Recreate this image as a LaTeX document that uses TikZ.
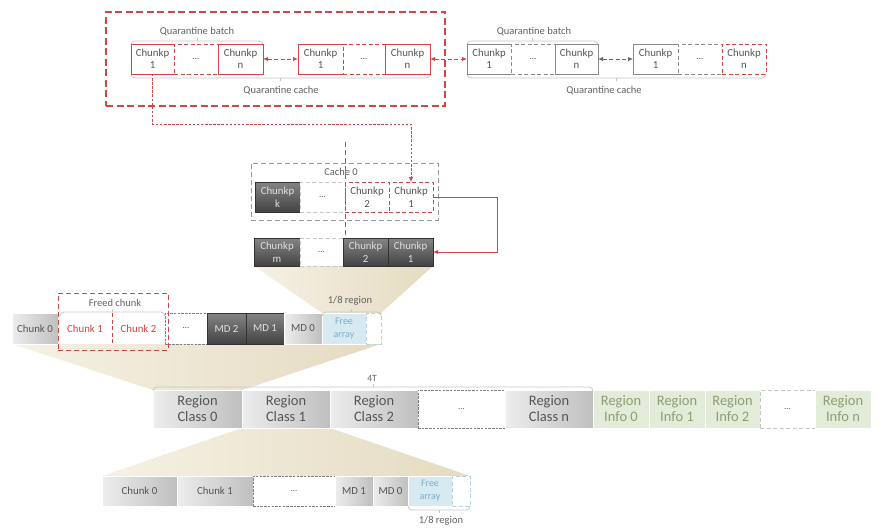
\documentclass[tikz,border=0pt]{standalone}
\usepackage{fontspec}
\setmainfont{Carlito}
\usetikzlibrary{arrows.meta}
\pgfdeclarelayer{bg}
\pgfsetlayers{bg,main}
\definecolor{qred}{HTML}{D04545}
\definecolor{tgray}{HTML}{555555}
\definecolor{dgray}{HTML}{8A8A8A}
\definecolor{lblue}{HTML}{D7EAF2}
\definecolor{lbluetxt}{HTML}{7FADC6}
\definecolor{lbluedash}{HTML}{B5D4E3}
\definecolor{lgreen}{HTML}{E3EBD9}
\definecolor{lgreentxt}{HTML}{8E9E74}
\definecolor{wedgeL}{HTML}{F6F1E5}
\definecolor{wedgeR}{HTML}{E5DBC1}
\newcommand\mkbox[7]{\node[#1,minimum width={(#5-#3)*1pt},minimum height={(#6-#4)*1pt}] (#2) at ({(#3+#5)/2},{(#4+#6)/2}) {#7};}
\newcommand\bracetop[3]{\draw[brc,rounded corners=4pt] (#1,#3+4) -- (#1,#3) -- (#2,#3) -- (#2,#3+4); \draw[brc] ({(#1+#2)/2},#3) -- ++(0,-3);}
\newcommand\bracebot[3]{\draw[brc,rounded corners=4pt] (#1,#3-4) -- (#1,#3) -- (#2,#3) -- (#2,#3-4); \draw[brc] ({(#1+#2)/2},#3) -- ++(0,3);}
\begin{document}
\begin{tikzpicture}[x=1pt,y=-1pt,
 base/.style={inner sep=0pt,outer sep=0pt,align=center,font=\fontsize{10.8}{12.5}\selectfont,text=tgray},
 lbl/.style={inner sep=0pt,font=\fontsize{10.5}{12.5}\selectfont,text=black!62},
 bigred/.style={base,draw=qred,line width=1.1pt,dash pattern=on 7pt off 3.5pt},
 redopen/.style={base,fill=white},
 redline/.style={draw=qred,line width=0.9pt},
 redbox/.style={base,draw=qred,line width=0.9pt,fill=white},
 reddash/.style={base,draw=qred,line width=0.9pt,fill=white,dash pattern=on 4pt off 2.5pt},
 grayopen/.style={base,fill=white},
 grayline/.style={draw=dgray,line width=0.8pt},
 graybox/.style={base,draw=dgray,line width=0.8pt,fill=white},
 graydash/.style={base,draw=dgray,line width=0.8pt,fill=white,dash pattern=on 4pt off 2.5pt},
 darkbox/.style={base,draw=black!80,line width=0.5pt,top color=black!48,bottom color=black!74,text=black!12},
 lightbox/.style={base,draw=white,line width=0.6pt,left color=black!7,right color=black!25},
 dotsbox/.style={base,draw=black!50,line width=0.6pt,fill=white,dash pattern=on 2.5pt off 1.2pt,font=\fontsize{9}{10}\selectfont},
 lightdots/.style={base,draw=black!22,line width=0.7pt,fill=white,dash pattern=on 4pt off 2.5pt,font=\fontsize{9}{10}\selectfont},
 redtxt/.style={base,fill=white,text=qred},
 freebox/.style={base,fill=lblue,draw=white,line width=0.5pt,text=lbluetxt,font=\fontsize{10}{13}\selectfont},
 freedash/.style={base,fill=white,draw=lbluedash,line width=0.8pt,dash pattern=on 4pt off 2.5pt},
 region/.style={lightbox,font=\fontsize{14.5}{16}\selectfont},
 info/.style={base,fill=lgreen,draw=white,line width=0.6pt,text=lgreentxt,font=\fontsize{14.5}{16}\selectfont},
 cachebox/.style={base,draw=black!40,line width=0.9pt,dash pattern=on 5pt off 3pt},
 freedbox/.style={base,draw=qred,line width=1pt,dash pattern=on 5pt off 3pt},
 brc/.style={draw=black!22,line width=0.8pt},
 rarr/.style={draw=qred,line width=0.9pt,dash pattern=on 4pt off 2.5pt,{Latex[length=5pt,width=4.5pt]}-{Latex[length=5pt,width=4.5pt]}},
 garr/.style={draw=black!60,line width=0.9pt,dash pattern=on 4pt off 2.5pt,{Latex[length=5pt,width=4.5pt]}-{Latex[length=5pt,width=4.5pt]}},
 rfine/.style={draw=qred,line width=0.8pt,dash pattern=on 2.5pt off 1.6pt},
 rmid/.style={draw=qred,line width=0.9pt,dash pattern=on 5pt off 3pt},
 wedge/.style={left color=wedgeL,right color=wedgeR,draw=none}
]
\useasboundingbox (0,0) rectangle (885,532);

% ---------- top quarantine area ----------
\mkbox{bigred}{qcache}{106}{12}{445}{106}{}
\node[lbl] (lbA) at (197,32) {Quarantine batch};
\node[lbl] (lcA) at (281,91) {Quarantine cache};
\node[lbl] (lbC) at (534,32) {Quarantine batch};
\node[lbl] (lcC) at (604,91) {Quarantine cache};
\bracetop{131}{263}{41}
\bracebot{131}{430}{78}
\bracetop{467}{598}{41}
\bracebot{467}{766}{78}

\mkbox{redopen}{qa1}{131}{44}{174}{74}{Chunkp\\1}
\mkbox{reddash}{qad}{174}{44}{218}{74}{\fontsize{9}{10}\selectfont\dots}
\mkbox{redbox}{qan}{218}{44}{263}{74}{Chunkp\\n}
\draw[redline] (qa1.north east) -- (qa1.north west) -- (qa1.south west) -- (qa1.south east);

\mkbox{redopen}{qb1}{298}{44}{343}{74}{Chunkp\\1}
\mkbox{reddash}{qbd}{343}{44}{385}{74}{\fontsize{9}{10}\selectfont\dots}
\mkbox{redbox}{qbn}{385}{44}{430}{74}{Chunkp\\n}
\draw[redline] (qb1.north east) -- (qb1.north west) -- (qb1.south west) -- (qb1.south east);

\mkbox{grayopen}{qc1}{467}{44}{511}{74}{Chunkp\\1}
\mkbox{graydash}{qcd}{511}{44}{555}{74}{\fontsize{9}{10}\selectfont\dots}
\mkbox{graybox}{qcn}{555}{44}{598}{74}{Chunkp\\n}
\draw[grayline] (qc1.north east) -- (qc1.north west) -- (qc1.south west) -- (qc1.south east);

\mkbox{grayopen}{qd1}{633}{44}{678}{74}{Chunkp\\1}
\mkbox{graydash}{qdd}{678}{44}{722}{74}{\fontsize{9}{10}\selectfont\dots}
\mkbox{reddash}{qdn}{722}{44}{766}{74}{Chunkp\\n}
\draw[grayline] (qd1.north east) -- (qd1.north west) -- (qd1.south west) -- (qd1.south east);

\draw[rarr] (qan.east) -- (qb1.west);
\draw[rarr] (qbn.east) -- (qc1.west);
\draw[garr] (qcn.east) -- (qd1.west);

% ---------- cache ----------
\mkbox{cachebox}{cache}{251}{163}{438}{220}{}
\node[lbl] (cachelbl) at (341,172) {Cache 0};
\mkbox{darkbox}{ck}{255}{182}{300}{212}{Chunkp\\k}
\mkbox{lightdots}{cd}{300}{182}{345}{212}{\dots}
\mkbox{reddash}{c2}{345}{182}{389}{212}{Chunkp\\2}
\mkbox{reddash}{c1}{389}{182}{433}{212}{Chunkp\\1}

\mkbox{darkbox}{lm}{254}{238}{300}{266}{Chunkp\\m}
\mkbox{lightdots}{ld}{300}{238}{343}{266}{\dots}
\mkbox{darkbox}{l2}{343}{238}{388}{266}{Chunkp\\2}
\mkbox{darkbox}{l1}{388}{238}{433}{266}{Chunkp\\1}

\coordinate (turn) at (411,124);
\draw[rfine,-{Latex[length=5pt,width=4.5pt]}] (qa1.south) |- (turn) -- (c1.north);
\coordinate (vtop) at (345,142);
\coordinate (vbot) at (345,238);
\draw[rmid] (vtop) -- (vbot);
\draw[qred,line width=0.9pt,-{Latex[length=5pt,width=4.5pt]}] (c1.east) -- ++(64,0) |- (l1.east);

% ---------- middle row ----------
\mkbox{lightbox}{m0}{12}{313}{58}{344}{Chunk 0}
\mkbox{redtxt}{m1}{58}{313}{112}{344}{Chunk 1}
\mkbox{redtxt}{m2}{112}{313}{165}{344}{Chunk 2}
\draw[qred,line width=0.8pt,dash pattern=on 4pt off 2.5pt] (m1.north east) -- (m1.south east);
\mkbox{dotsbox}{md}{165}{313}{207}{344}{\dots}
\mkbox{darkbox}{mmd2}{207}{313}{246}{344}{MD 2}
\mkbox{darkbox}{mmd1}{246}{313}{284}{344}{MD 1}
\mkbox{lightbox}{mmd0}{284}{313}{322}{344}{MD 0}
\mkbox{freebox}{mfa}{322}{313}{366}{344}{Free\\array}
\mkbox{freedash}{mfd}{366}{313}{381}{344}{}
\mkbox{freedbox}{freed}{58}{293}{168}{350}{}
\node[lbl] (freedlbl) at (115,303) {Freed chunk};
\bracetop{60}{165}{312}
\node[lbl] (r8a) at (350,301) {1/8 region};
\bracetop{322}{381}{312}

% ---------- region row ----------
\mkbox{region}{rc0}{153}{390}{242}{428}{Region\\Class 0}
\mkbox{region}{rc1}{242}{390}{330}{428}{Region\\Class 1}
\mkbox{region}{rc2}{330}{390}{418}{428}{Region\\Class 2}
\mkbox{dotsbox}{rd}{418}{390}{505}{428}{\dots}
\mkbox{region}{rcn}{505}{390}{593}{428}{Region\\Class n}
\mkbox{info}{ri0}{593}{390}{649}{428}{Region\\Info 0}
\mkbox{info}{ri1}{649}{390}{705}{428}{Region\\Info 1}
\mkbox{info}{ri2}{705}{390}{760}{428}{Region\\Info 2}
\mkbox{lightdots}{rid}{760}{390}{815}{428}{\dots}
\mkbox{info}{rin}{815}{390}{871}{428}{Region\\Info n}
\node[lbl,font=\fontsize{9.5}{11}\selectfont] (t4) at (372,378) {4T};
\bracetop{153}{593}{387}

% ---------- bottom row ----------
\mkbox{lightbox}{b0}{102}{476}{177}{506}{Chunk 0}
\mkbox{lightbox}{b1}{177}{476}{253}{506}{Chunk 1}
\mkbox{dotsbox}{bd}{253}{476}{335}{506}{\dots}
\mkbox{lightbox}{bmd1}{335}{476}{373}{506}{MD 1}
\mkbox{lightbox}{bmd0}{373}{476}{408}{506}{MD 0}
\mkbox{freebox}{bfa}{408}{476}{452}{506}{Free\\array}
\mkbox{freedash}{bfd}{452}{476}{470}{506}{}
\bracebot{408}{470}{510}
\node[lbl] (r8b) at (441,521) {1/8 region};

% ---------- wedges ----------
\begin{pgfonlayer}{bg}
\shade[wedge] (lm.south west) -- (l1.south east) -- (mfd.north east) -- (mfa.north west) -- cycle;
\shade[wedge] (m0.south west) -- (mfd.south east) -- (rc0.north east) -- (rc0.north west) -- cycle;
\shade[wedge] (rc1.south west) -- (rc1.south east) -- (bfd.north east) -- (b0.north west) -- cycle;
\end{pgfonlayer}
\end{tikzpicture}
\end{document}
